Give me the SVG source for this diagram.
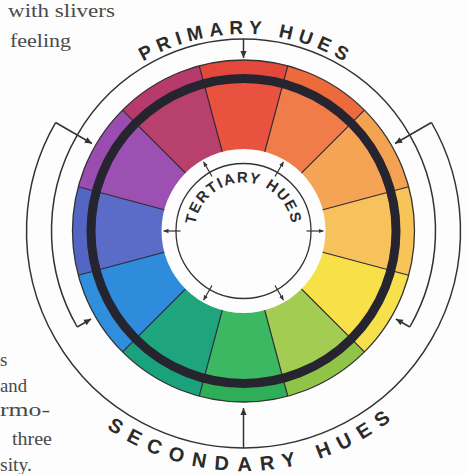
<svg xmlns="http://www.w3.org/2000/svg" width="466" height="474" viewBox="0 0 466 474">
<style>
.seg{stroke:none}
.div{stroke:#2e2a36;stroke-width:1.2;fill:none}
.ln{stroke:#333;stroke-width:1.5;fill:none}
.tk{stroke:#333;stroke-width:1.2;fill:none}
.lbl{font-family:"Liberation Sans",Arial,sans-serif;font-weight:bold;fill:#2b2b2b}
.body{font-family:"Liberation Serif","Times New Roman",serif;font-size:19px;fill:#4a4a4a}
</style>
<defs>
<marker id="ah" viewBox="0 0 10 10" refX="10" refY="5" markerWidth="8" markerHeight="7" markerUnits="userSpaceOnUse" orient="auto"><path d="M0,0.5 L10,5 L0,9.5 Z" fill="#333"/></marker>
<marker id="ahs" viewBox="0 0 10 10" refX="10" refY="5" markerWidth="5" markerHeight="5" markerUnits="userSpaceOnUse" orient="auto"><path d="M0,0.5 L10,5 L0,9.5 Z" fill="#333"/></marker>
<path id="pPrim" d="M46.5,231 A197,197 0 0 1 440.5,231"/>
<path id="pSec" d="M3.5,231 A240,240 0 0 0 483.5,231"/>
<path id="pTer" d="M195,231 A48.5,48.5 0 0 1 292,231"/>
</defs>
<rect width="466" height="474" fill="#fdfdfd"/>
<g id="body-text" class="body">
<text x="8" y="17" textLength="107" lengthAdjust="spacingAndGlyphs">with slivers</text>
<text x="10" y="46.5" textLength="61" lengthAdjust="spacingAndGlyphs">feeling</text>
<text x="0" y="366">s</text>
<text x="0" y="392" textLength="27" lengthAdjust="spacingAndGlyphs">and</text>
<text x="0" y="416" textLength="50" lengthAdjust="spacingAndGlyphs">rmo-</text>
<text x="12" y="445" textLength="40" lengthAdjust="spacingAndGlyphs">three</text>
<text x="0" y="471" textLength="32" lengthAdjust="spacingAndGlyphs">sity.</text>
</g>
<g id="wheel" transform="translate(243.5,231)">
<g id="outer-band" class="seg">
<path fill="#e4483a" d="M0,0 L-44.26,-165.17 A171,171 0 0 1 44.26,-165.17 Z"/>
<path fill="#ec6a3c" d="M0,0 L44.26,-165.17 A171,171 0 0 1 120.92,-120.92 Z"/>
<path fill="#f3a252" d="M0,0 L120.92,-120.92 A171,171 0 0 1 165.17,-44.26 Z"/>
<path fill="#f7c45a" d="M0,0 L165.17,-44.26 A171,171 0 0 1 165.17,44.26 Z"/>
<path fill="#f6e04c" d="M0,0 L165.17,44.26 A171,171 0 0 1 120.92,120.92 Z"/>
<path fill="#8fc447" d="M0,0 L120.92,120.92 A171,171 0 0 1 44.26,165.17 Z"/>
<path fill="#2fae5a" d="M0,0 L44.26,165.17 A171,171 0 0 1 -44.26,165.17 Z"/>
<path fill="#1aa27c" d="M0,0 L-44.26,165.17 A171,171 0 0 1 -120.92,120.92 Z"/>
<path fill="#2f8fdc" d="M0,0 L-120.92,120.92 A171,171 0 0 1 -165.17,44.26 Z"/>
<path fill="#5466c4" d="M0,0 L-165.17,44.26 A171,171 0 0 1 -165.17,-44.26 Z"/>
<path fill="#9a4cb0" d="M0,0 L-165.17,-44.26 A171,171 0 0 1 -120.92,-120.92 Z"/>
<path fill="#b73a6c" d="M0,0 L-120.92,-120.92 A171,171 0 0 1 -44.26,-165.17 Z"/>
</g>
<g id="inner-band" class="seg">
<path fill="#e9523e" d="M0,0 L-39.34,-146.82 A152,152 0 0 1 39.34,-146.82 Z"/>
<path fill="#f07c4a" d="M0,0 L39.34,-146.82 A152,152 0 0 1 107.48,-107.48 Z"/>
<path fill="#f5a456" d="M0,0 L107.48,-107.48 A152,152 0 0 1 146.82,-39.34 Z"/>
<path fill="#f7c25c" d="M0,0 L146.82,-39.34 A152,152 0 0 1 146.82,39.34 Z"/>
<path fill="#f7e048" d="M0,0 L146.82,39.34 A152,152 0 0 1 107.48,107.48 Z"/>
<path fill="#a3cc52" d="M0,0 L107.48,107.48 A152,152 0 0 1 39.34,146.82 Z"/>
<path fill="#3cb862" d="M0,0 L39.34,146.82 A152,152 0 0 1 -39.34,146.82 Z"/>
<path fill="#1ea57e" d="M0,0 L-39.34,146.82 A152,152 0 0 1 -107.48,107.48 Z"/>
<path fill="#2f8bdc" d="M0,0 L-107.48,107.48 A152,152 0 0 1 -146.82,39.34 Z"/>
<path fill="#5a6cc8" d="M0,0 L-146.82,39.34 A152,152 0 0 1 -146.82,-39.34 Z"/>
<path fill="#9c50b2" d="M0,0 L-146.82,-39.34 A152,152 0 0 1 -107.48,-107.48 Z"/>
<path fill="#b8406c" d="M0,0 L-107.48,-107.48 A152,152 0 0 1 -39.34,-146.82 Z"/>
</g>
<g id="dividers" class="div">
<path d="M-44.26,-165.17 L44.26,165.17 M44.26,-165.17 L-44.26,165.17 M120.92,-120.92 L-120.92,120.92 M165.17,-44.26 L-165.17,44.26 M165.17,44.26 L-165.17,-44.26 M120.92,120.92 L-120.92,-120.92"/>
</g>
<circle r="152.5" fill="none" stroke="#26252f" stroke-width="9"/>
<circle r="171" fill="none" stroke="#333" stroke-width="1.3"/>
<circle r="82" fill="#fdfdfd"/>
<circle id="tertiary-ring" r="67.5" fill="none" stroke="#333" stroke-width="1.3"/>
</g>
<g id="connectors" transform="translate(243.5,231)">
<path class="ln" d="M-166.28,96 A192,192 0 1 1 166.28,96"/>
<path class="ln" d="M0,-192 L0,-173" marker-end="url(#ah)"/>
<path class="ln" d="M-166.28,96 L-152.42,88" marker-end="url(#ah)"/>
<path class="ln" d="M166.28,96 L152.42,88" marker-end="url(#ah)"/>
<path class="ln" d="M187.93,-108.5 A217,217 0 1 1 -187.93,-108.5"/>
<path class="ln" d="M0,217 L0,177" marker-end="url(#ah)"/>
<path class="ln" d="M187.93,-108.5 L151.55,-87.5" marker-end="url(#ah)"/>
<path class="ln" d="M-187.93,-108.5 L-151.55,-87.5" marker-end="url(#ah)"/>
<g class="tk">
<path d="M31.5,-54.56 L40,-69.28" marker-end="url(#ahs)"/>
<path d="M63,0 L80,0" marker-end="url(#ahs)"/>
<path d="M31.5,54.56 L40,69.28" marker-end="url(#ahs)"/>
<path d="M-31.5,54.56 L-40,69.28" marker-end="url(#ahs)"/>
<path d="M-63,0 L-80,0" marker-end="url(#ahs)"/>
<path d="M-31.5,-54.56 L-40,-69.28" marker-end="url(#ahs)"/>
</g>
</g>
<g id="primary-label"><text class="lbl" font-size="19" letter-spacing="6"><textPath href="#pPrim" startOffset="50.5%" text-anchor="middle">PRIMARY HUES</textPath></text></g>
<g id="secondary-label"><text class="lbl" font-size="20" letter-spacing="9"><textPath href="#pSec" startOffset="51.5%" text-anchor="middle">SECONDARY HUES</textPath></text></g>
<g id="tertiary-label"><text class="lbl" font-size="15" letter-spacing="1.5"><textPath href="#pTer" startOffset="50%" text-anchor="middle">TERTIARY HUES</textPath></text></g>
</svg>
